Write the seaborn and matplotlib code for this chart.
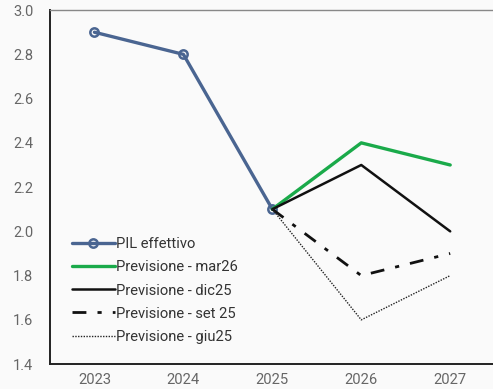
import matplotlib
matplotlib.use("Agg")
import matplotlib.pyplot as plt
import seaborn as sns
import pandas as pd

# dati
anni = ["2023", "2024", "2025", "2026", "2027"]
pil_effettivo = [2.9, 2.8, 2.1, None, None]
prev_mar26 = [None, None, 2.1, 2.4, 2.3]
prev_dic25 = [None, None, 2.1, 2.3, 2.0]
prev_set25 = [None, None, 2.1, 1.8, 1.9]
prev_giu25 = [None, None, 2.1, 1.6, 1.8]

sns.set_style("white")
plt.rcParams['font.family'] = ['Roboto', 'DejaVu Sans']

fig = plt.figure(figsize=(4.93, 3.89), dpi=100, facecolor="#fafafa")
ax = fig.add_axes([0.1014, 0.064, 0.902, 0.91])
ax.set_facecolor("#fafafa")

serie = [
    ("PIL effettivo", pil_effettivo, dict(color="#4a6591", lw=2.4, marker="o", ms=6,
                                          mfc="none", mec="#4a6591", mew=1.8)),
    ("Previsione - mar26", prev_mar26, dict(color="#1aaa4a", lw=2.4)),
    ("Previsione - dic25", prev_dic25, dict(color="#111111", lw=1.8)),
    ("Previsione - set 25", prev_set25, dict(color="#111111", lw=2.0, ls=(0, (5, 4, 1.5, 4)))),
    ("Previsione - giu25", prev_giu25, dict(color="#222222", lw=1.0, ls=(0, (1, 1)))),
]

x_pos = list(range(len(anni)))
for nome, valori, stile in serie:
    df = pd.DataFrame({"x": x_pos, "y": valori}).dropna()
    sns.lineplot(data=df, x="x", y="y", ax=ax, label=nome, **stile)

ax.set_xlim(-0.5, 4.5)
ax.set_ylim(1.4, 3.0)
ax.set_yticks([1.4, 1.6, 1.8, 2.0, 2.2, 2.4, 2.6, 2.8, 3.0])
ax.set_xticks(x_pos)
ax.set_xticklabels(anni)
ax.set_xticks([i - 0.5 for i in range(len(anni) + 1)], minor=True)
ax.tick_params(axis="x", which="major", length=0, pad=6.5, labelsize=10.6, colors="#666666")
ax.tick_params(axis="x", which="minor", length=4, width=1, color="#333333", direction="out")
ax.tick_params(axis="y", length=0, pad=12, labelsize=10.5, colors="#666666")
ax.set_xlabel("")
ax.set_ylabel("")

for lato in ["left", "bottom"]:
    ax.spines[lato].set_color("#222222")
    ax.spines[lato].set_linewidth(1.4)
ax.spines["top"].set_color("#888888")
ax.spines["top"].set_linewidth(1.0)
ax.spines["right"].set_visible(False)

leg = ax.legend(loc="lower left", bbox_to_anchor=(0.02, 0.02), frameon=False,
                fontsize=10.6, handlelength=2.9, handletextpad=0.1, labelspacing=0.62)
for t in leg.get_texts():
    t.set_color("#333333")

fig.savefig("out.png", dpi=100, facecolor=fig.get_facecolor())
